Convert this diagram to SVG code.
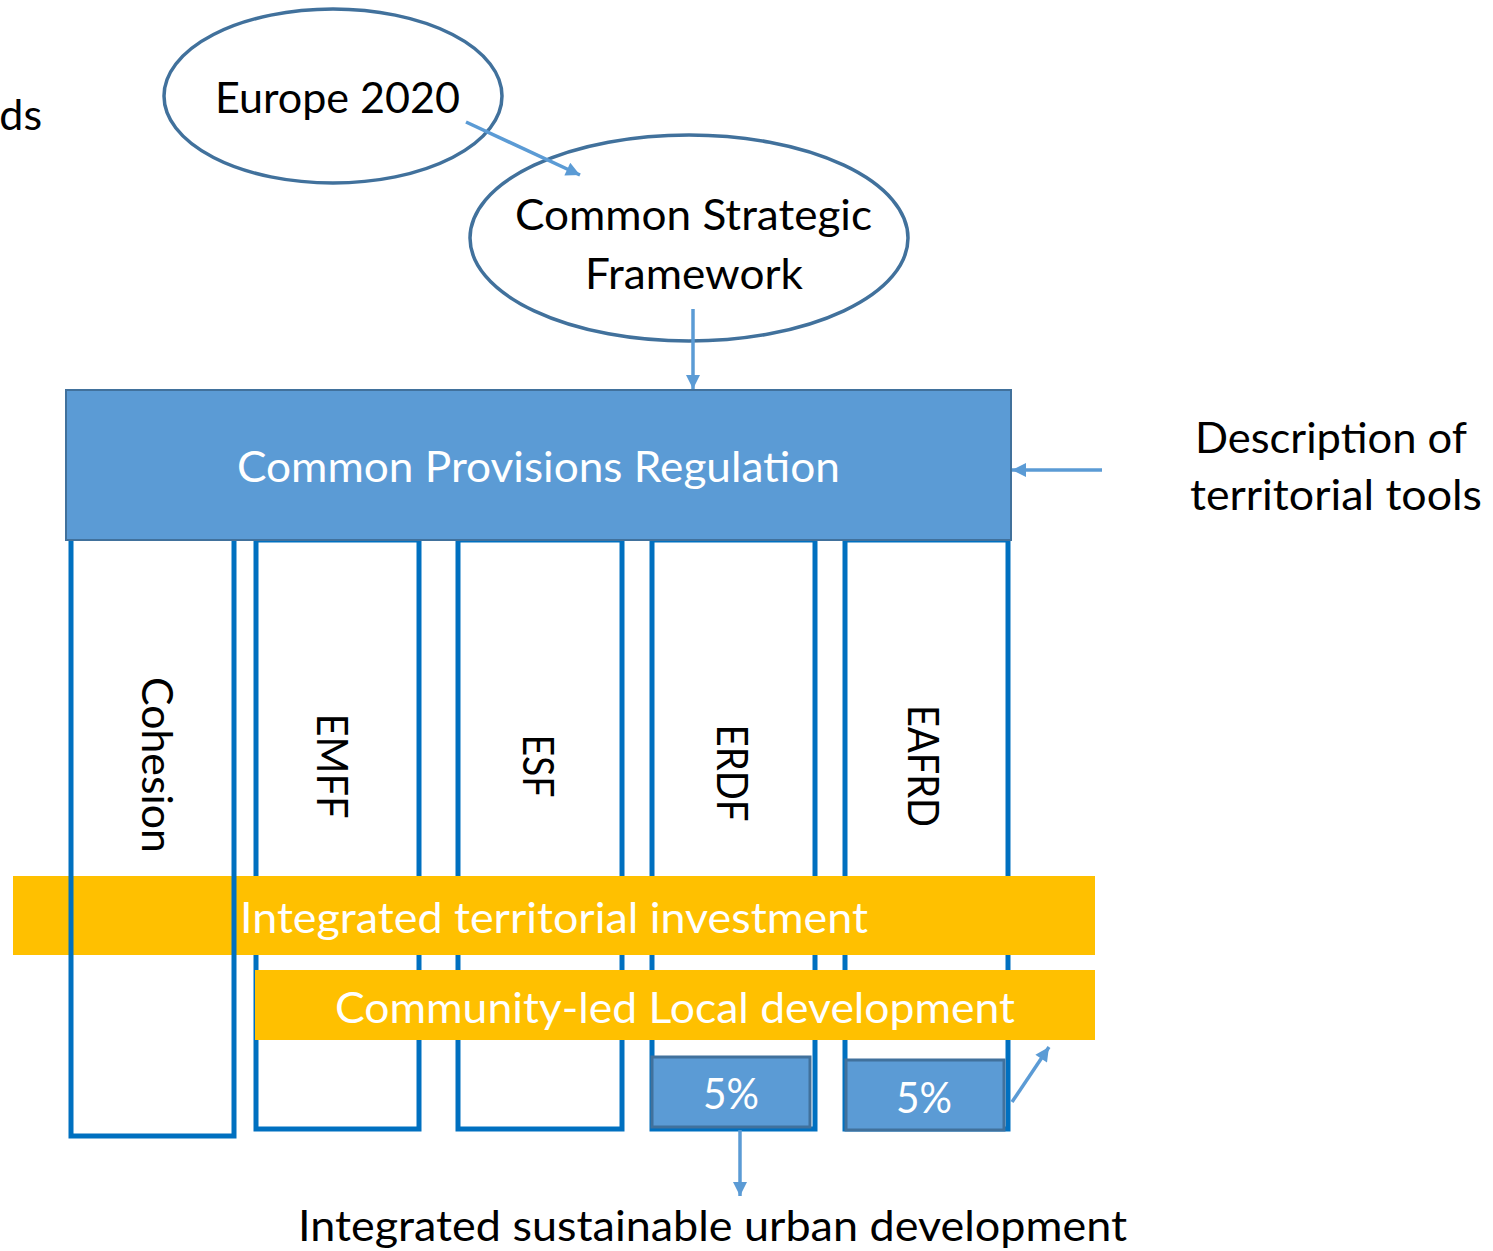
<svg xmlns="http://www.w3.org/2000/svg" width="1493" height="1251" viewBox="0 0 1493 1251">
<style>
text{font-family:Lato,"Open Sans","Liberation Sans",sans-serif;font-size:43px}
.dk{fill:#000}
.wt{fill:#fff}
.ell{fill:#fff;stroke:#41719C;stroke-width:3.5}
.col{fill:none;stroke:#0070C0;stroke-width:5}
.blue{fill:#5B9BD5;stroke:#41719C;stroke-width:2}
.pct{fill:#5B9BD5;stroke:#41719C;stroke-width:3}
.yel{fill:#FFC000}
.con{stroke:#5B9BD5;stroke-width:3.5;fill:none;marker-end:url(#ah)}
</style>
<defs>
<marker id="ah" viewBox="0 0 10 10" refX="10" refY="5" markerWidth="17" markerHeight="14" markerUnits="userSpaceOnUse" orient="auto">
<path d="M0,0 L10,5 L0,10 Z" fill="#5B9BD5"/>
</marker>
</defs>
<rect width="1493" height="1251" fill="#fff"/>
<text class="dk" x="42" y="130" text-anchor="end">ds</text>

<g id="europe2020">
<ellipse class="ell" cx="333" cy="96" rx="169" ry="87"/>
<text class="dk" x="337.5" y="113" text-anchor="middle" textLength="245" lengthAdjust="spacingAndGlyphs">Europe 2020</text>
</g>
<g id="csf">
<ellipse class="ell" cx="689" cy="238" rx="219" ry="103"/>
<text class="dk" x="693.5" y="230" text-anchor="middle" textLength="357" lengthAdjust="spacingAndGlyphs">Common Strategic</text>
<text class="dk" x="694" y="289" text-anchor="middle" textLength="218" lengthAdjust="spacingAndGlyphs">Framework</text>
</g>

<g id="col-emff">
<rect class="col" x="256" y="540" width="163" height="589"/>
<text class="dk" transform="translate(317,766) rotate(90)" text-anchor="middle" textLength="105" lengthAdjust="spacingAndGlyphs">EMFF</text>
</g>
<g id="col-esf">
<rect class="col" x="458" y="540" width="164" height="589"/>
<text class="dk" transform="translate(523,766) rotate(90)" text-anchor="middle" textLength="63" lengthAdjust="spacingAndGlyphs">ESF</text>
</g>
<g id="col-erdf">
<rect class="col" x="652" y="540" width="163" height="589"/>
<text class="dk" transform="translate(717,773) rotate(90)" text-anchor="middle" textLength="97" lengthAdjust="spacingAndGlyphs">ERDF</text>
</g>
<g id="col-eafrd">
<rect class="col" x="845" y="540" width="163" height="589"/>
<text class="dk" transform="translate(908,766) rotate(90)" text-anchor="middle" textLength="122" lengthAdjust="spacingAndGlyphs">EAFRD</text>
</g>

<g id="cpr">
<rect class="blue" x="66" y="390" width="945" height="150"/>
<text class="wt" x="538.5" y="482" text-anchor="middle" textLength="603" lengthAdjust="spacingAndGlyphs">Common Provisions Regulation</text>
</g>

<g id="iti">
<rect class="yel" x="13" y="876" width="1082" height="79"/>
<text class="wt" x="240" y="933" textLength="628" lengthAdjust="spacingAndGlyphs">Integrated territorial investment</text>
</g>
<g id="col-cohesion">
<path class="col" d="M71,541 V1136 H234 V541"/>
<text class="dk" transform="translate(142,765) rotate(90)" text-anchor="middle" textLength="176" lengthAdjust="spacingAndGlyphs">Cohesion</text>
</g>
<g id="clld">
<rect class="yel" x="255" y="970" width="840" height="70"/>
<text class="wt" x="335" y="1023" textLength="680" lengthAdjust="spacingAndGlyphs">Community-led Local development</text>
</g>

<g id="pct-erdf">
<rect class="pct" x="652" y="1057" width="158" height="70"/>
<text class="wt" x="731" y="1109" text-anchor="middle" textLength="56" lengthAdjust="spacingAndGlyphs">5%</text>
</g>
<g id="pct-eafrd">
<rect class="pct" x="846" y="1060" width="158" height="70"/>
<text class="wt" x="924" y="1113" text-anchor="middle" textLength="56" lengthAdjust="spacingAndGlyphs">5%</text>
</g>

<g id="desc">
<text class="dk" x="1331" y="453" text-anchor="middle" textLength="272" lengthAdjust="spacingAndGlyphs">Description of</text>
<text class="dk" x="1336" y="510" text-anchor="middle" textLength="292" lengthAdjust="spacingAndGlyphs">territorial tools</text>
</g>
<g id="isud">
<text class="dk" x="712.5" y="1241" text-anchor="middle" textLength="829" lengthAdjust="spacingAndGlyphs">Integrated sustainable urban development</text>
</g>

<g id="connectors">
<line class="con" x1="466" y1="122" x2="580" y2="175"/>
<line class="con" x1="693" y1="309" x2="693" y2="389"/>
<line class="con" x1="1102" y1="470" x2="1012" y2="470"/>
<line class="con" x1="740" y1="1130" x2="740" y2="1196"/>
<line class="con" x1="1012" y1="1102" x2="1049" y2="1047"/>
</g>
</svg>
